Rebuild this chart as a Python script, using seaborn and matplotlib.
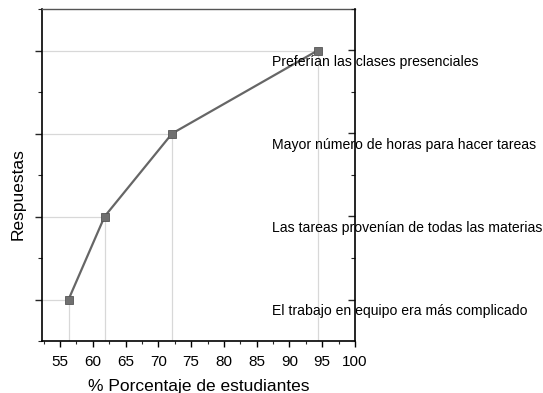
import matplotlib
matplotlib.use("Agg")
import matplotlib.pyplot as plt
import seaborn as sns
import pandas as pd
from matplotlib.ticker import MultipleLocator

sns.set_theme(style="white")
plt.rcParams['font.family'] = ['Liberation Sans', 'DejaVu Sans']
plt.rcParams['text.color'] = 'black'
plt.rcParams['axes.labelcolor'] = 'black'

categorias = ["El trabajo en equipo era más complicado",
              "Las tareas provenían de todas las materias",
              "Mayor número de horas para hacer tareas",
              "Preferían las clases presenciales"]
porcentajes = [56.3, 61.8, 72.1, 94.3]
niveles = [1, 2, 3, 4]
x_ticks = [55, 60, 65, 70, 75, 80, 85, 90, 95, 100]

df = pd.DataFrame({"pct": porcentajes, "nivel": niveles, "cat": categorias})

fig = plt.figure(figsize=(5.43, 3.93), dpi=100)
ax = fig.add_axes([42/543, 1-341/393, (355-42)/543, (341-9)/393])

xmin, ymin = 52.25, 0.5
for x, y in zip(porcentajes, niveles):
    ax.plot([xmin, x], [y, y], color="#d8d8d8", lw=0.9, zorder=1)
    ax.plot([x, x], [ymin, y], color="#d8d8d8", lw=0.9, zorder=1)

sns.lineplot(data=df, x="pct", y="nivel", ax=ax, color="#666666", lw=1.6,
             marker="s", markersize=6, markerfacecolor="#707070",
             markeredgecolor="#555555", markeredgewidth=0.6, zorder=3, sort=False)

for y, c in zip(niveles, categorias):
    ax.text(87.3, y - 0.135, c, fontsize=10.1, color="black", va="center",
            ha="left", clip_on=False, zorder=4)

ax.set_xlim(xmin, 100)
ax.set_ylim(0.5, 4.5)
ax.set_xticks(x_ticks)
ax.xaxis.set_minor_locator(MultipleLocator(2.5))
ax.set_yticks(niveles)
ax.yaxis.set_minor_locator(MultipleLocator(0.5))
ax.set_yticklabels([])
ax.tick_params(axis="x", which="major", direction="out", length=4, width=1, labelsize=11, pad=6, bottom=True, colors="black")
ax.tick_params(axis="x", which="minor", direction="out", length=2.5, width=0.8, bottom=True)
ax.tick_params(axis="y", which="major", direction="out", length=5, width=1, left=True, right=False)
ax.tick_params(axis="y", which="minor", direction="out", length=3, width=0.8, left=True, right=False)

# right spine ticks inward via twin axis
axr = ax.twinx()
axr.set_ylim(0.5, 4.5)
axr.set_yticks(niveles)
axr.yaxis.set_minor_locator(MultipleLocator(0.5))
axr.set_yticklabels([])
axr.tick_params(axis="y", which="major", direction="in", length=5, width=1, right=True)
axr.tick_params(axis="y", which="minor", direction="in", length=3, width=0.8, right=True)
for s in ["left", "top", "bottom"]:
    axr.spines[s].set_visible(False)
axr.spines["right"].set_color("black")
axr.spines["right"].set_linewidth(1.2)
axr.grid(False)

for s in ["left", "bottom"]:
    ax.spines[s].set_color("black")
    ax.spines[s].set_linewidth(1.2)
ax.spines["top"].set_color("#555555")
ax.spines["top"].set_linewidth(1.0)
ax.spines["right"].set_visible(False)
ax.grid(False)

ax.set_xlabel("% Porcentaje de estudiantes", fontsize=12.5, color="black")
ax.xaxis.set_label_coords(0.5, (341-379)/332)
ax.set_ylabel("Respuestas", fontsize=12.5, color="black")
ax.yaxis.set_label_coords((26-42)/313, (341-194)/332)

fig.savefig("out.png", dpi=100)
